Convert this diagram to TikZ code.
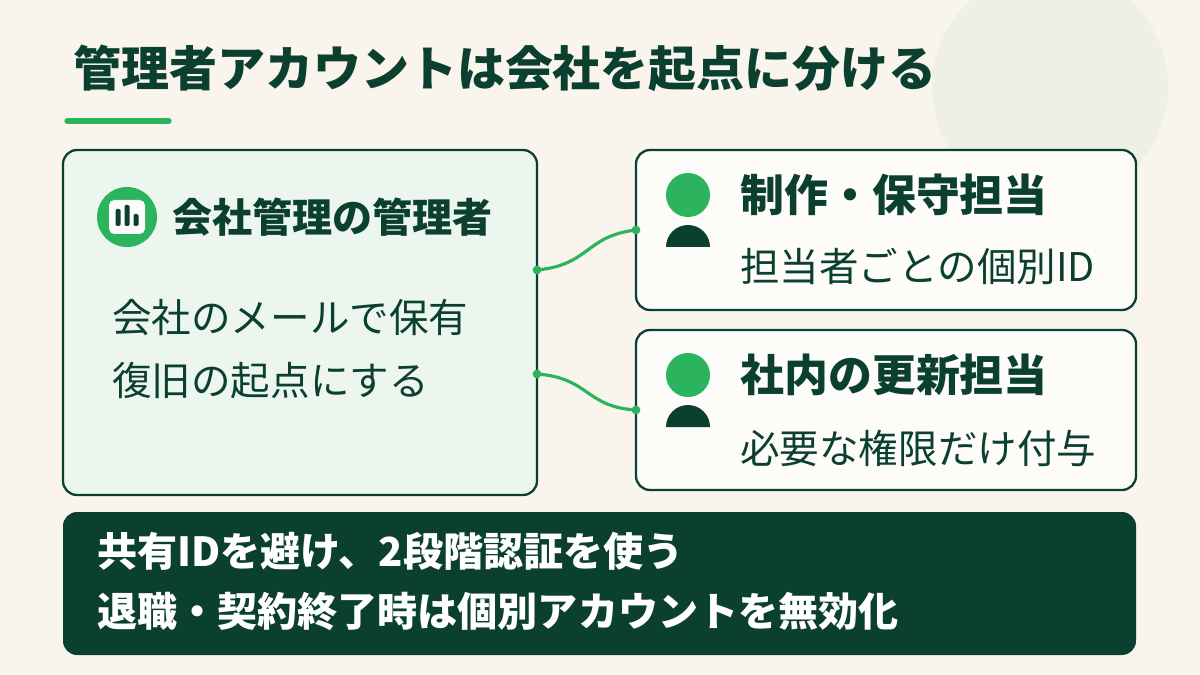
\documentclass[tikz,border=0pt]{standalone}
\usepackage{fontspec}
\setmainfont{Noto Sans CJK JP}
\usetikzlibrary{positioning}
\definecolor{bgcream}{HTML}{FAF5EC}
\definecolor{deepgreen}{HTML}{0B4030}
\definecolor{leafgreen}{HTML}{2BB35E}
\definecolor{palegreen}{HTML}{EDF6EE}
\definecolor{cardwhite}{HTML}{FDFCF8}
\definecolor{blobgreen}{HTML}{EEF0E3}
\tikzset{
  card/.style={draw=deepgreen, line width=1.3pt, rounded corners=8pt},
  head/.style={anchor=west, inner sep=0pt, font=\fontsize{25}{27}\selectfont\bfseries, text=deepgreen},
  body/.style={anchor=west, inner sep=0pt, font=\fontsize{22.5}{25}\selectfont, text=deepgreen},
  link/.style={leafgreen, line width=1.8pt},
  dot/.style={circle, fill=leafgreen, inner sep=0pt, minimum size=5pt}
}
\begin{document}
\begin{tikzpicture}[x=0.02cm, y=-0.02cm]
\fill[bgcream] (0,0) rectangle (1200,675);
\useasboundingbox (0,0) rectangle (1200,675);
\fill[blobgreen] (1050,87) circle (118);
% title
\node[anchor=west, inner sep=0pt, font=\fontsize{27.3}{30}\selectfont\bfseries, text=deepgreen] (title) at (73,68) {管理者アカウントは会社を起点に分ける};
\draw[leafgreen, line width=3pt, line cap=round] (67,121) -- (169,121);
% company box
\draw[card, fill=palegreen] (63,150) rectangle (537,495);
\fill[leafgreen] (127,217) circle (30);
\fill[cardwhite, rounded corners=3pt] (109,200) rectangle (145,234);
\foreach \bx/\bt in {118/209, 127/205, 136/214}
  \fill[deepgreen, rounded corners=0.8pt] (\bx-2.5,\bt) rectangle (\bx+2.5,226);
\node[head, font=\fontsize{22.8}{25}\selectfont\bfseries] (adminhead) at (172,217) {会社管理の管理者};
\node[body] (adminline1) at (112,318) {会社のメールで保有};
\node[body] (adminline2) at (112,381) {復旧の起点にする};
% staff cards
\draw[card, fill=cardwhite] (636,150) rectangle (1136,310);
\draw[card, fill=cardwhite] (636,330) rectangle (1136,490);
\foreach \py in {195, 375} {
  \fill[leafgreen] (688,\py) ellipse (22 and 22);
  \fill[deepgreen] (666,\py+52) arc (180:360:22) -- cycle;
}
\node[head] (vendorhead) at (740,195) {制作・保守担当};
\node[body] (vendorsub) at (740,266) {担当者ごとの個別ID};
\node[head] (internhead) at (740,375) {社内の更新担当};
\node[body] (internsub) at (740,448) {必要な権限だけ付与};
% connectors
\node[dot] (from1) at (537,270) {};
\node[dot] (to1) at (636,230) {};
\node[dot] (from2) at (537,374) {};
\node[dot] (to2) at (636,410) {};
\draw[link] (from1.center) .. controls (590,265) and (585,236) .. (to1.center);
\draw[link] (from2.center) .. controls (590,378) and (585,407) .. (to2.center);
% footer
\fill[deepgreen, rounded corners=8pt] (63,512) rectangle (1136,655);
\node[anchor=west, inner sep=0pt, font=\fontsize{22.8}{25}\selectfont\bfseries, text=white] (rule1) at (97,551) {共有IDを避け、2段階認証を使う};
\node[anchor=west, inner sep=0pt, font=\fontsize{22.8}{25}\selectfont\bfseries, text=white] (rule2) at (97,611) {退職・契約終了時は個別アカウントを無効化};
\end{tikzpicture}
\end{document}
